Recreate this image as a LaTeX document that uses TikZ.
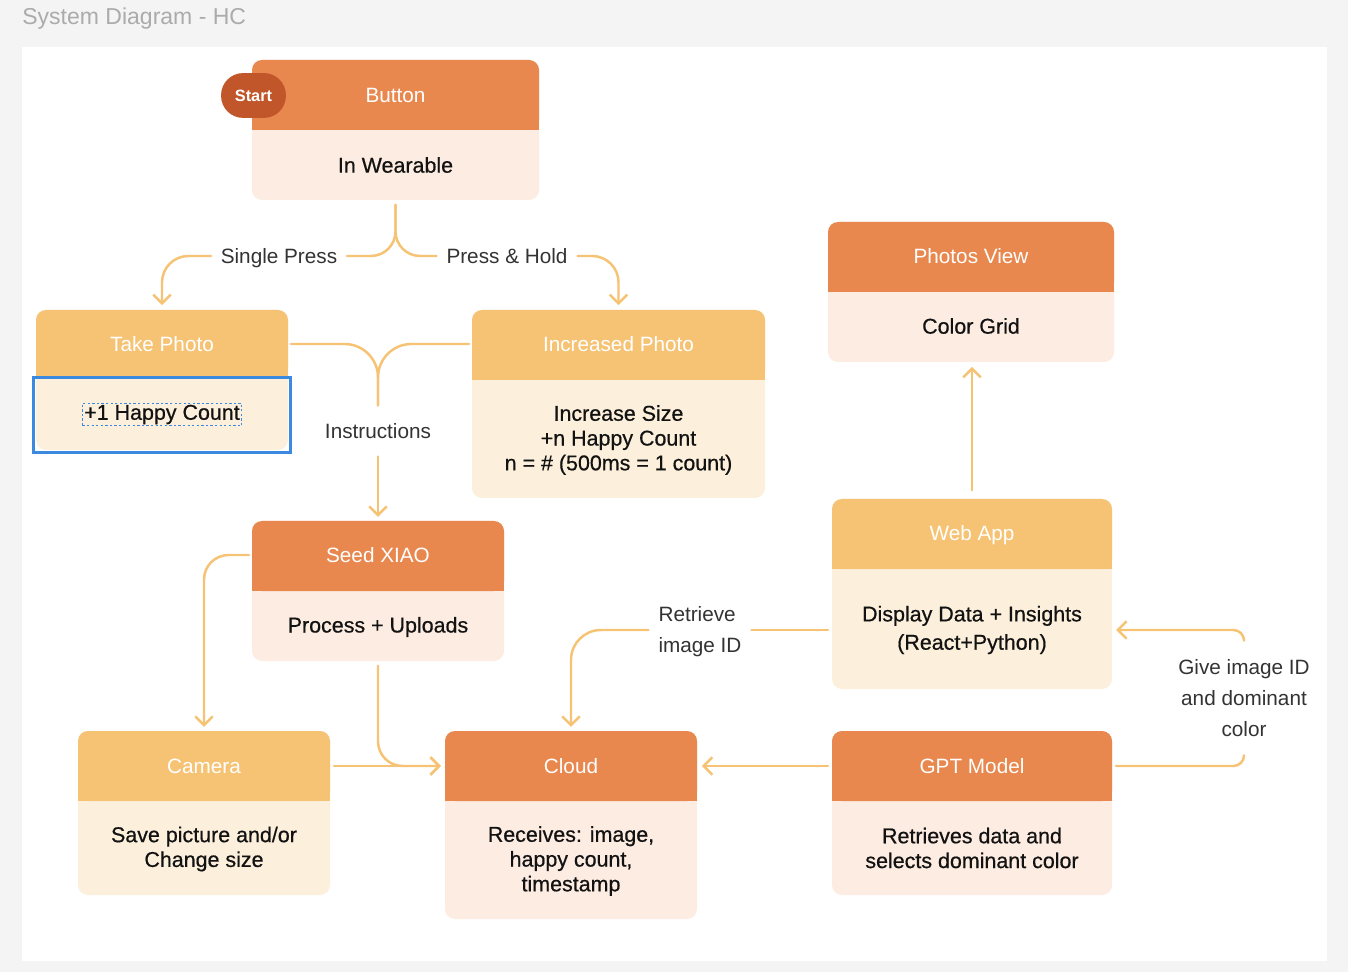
\documentclass[tikz,border=0pt]{standalone}
\usepackage{fontspec}
\setmainfont{Liberation Sans}
\newfontface\medfont{Liberation Sans}[FakeBold=0.6]
\usetikzlibrary{arrows.meta,fit}

\definecolor{hcOrange}{HTML}{E8884F}
\definecolor{hcPink}{HTML}{FDECE2}
\definecolor{hcYellow}{HTML}{F6C375}
\definecolor{hcCream}{HTML}{FCF0DC}
\definecolor{hcStart}{HTML}{C0562A}
\definecolor{hcLine}{HTML}{F6C375}
\definecolor{hcBlue}{HTML}{3C89E0}
\definecolor{hcText}{HTML}{333333}
\definecolor{hcTitle}{HTML}{ABABAB}
\definecolor{hcBack}{HTML}{F4F4F4}

\begin{document}
\begin{tikzpicture}[x=0.02cm, y=-0.02cm,
    area/.style={inner sep=0pt, outer sep=0pt},
    head/.style={text=white, font=\fontsize{11.8}{14}\selectfont},
    body/.style={text=black!93, align=center, font=\medfont\fontsize{12.2}{14.1}\selectfont},
    lbl/.style={text=hcText, align=center, inner xsep=5.5pt, inner ysep=0pt, font=\fontsize{11.8}{17.6}\selectfont},
    link/.style={draw=hcLine, line width=1.4pt, line cap=round},
    tip/.style={-{Straight Barb[length=5pt,width=10pt]}}]
    \useasboundingbox (0,0) rectangle (1348,972);
    % 背景
    \fill[hcBack] (0,0) rectangle (1348,972);
    \fill[white] (22,47) rectangle (1327,961);
    \node[anchor=west, text=hcTitle, inner sep=0pt, font=\fontsize{13.1}{15}\selectfont] (title) at (22,19) {System Diagram - HC};

    % Button
    \node[area, fit={(252,60) (539,200)}] (button) {};
    \fill[hcPink, rounded corners=5.7pt] (button.north west) rectangle (button.south east);
    \fill[hcOrange, rounded corners=5.7pt] (button.north west) rectangle (539,130);
    \fill[hcOrange] (252,110) rectangle (539,130);
    \node[head] (buttonT) at (395.5,95) {Button};
    \node[body] (buttonB) at (395.5,165) {In Wearable};
    \node[fill=hcStart, rounded corners=12.5pt, minimum width=36.9pt, minimum height=25.5pt, inner sep=0pt,
          text=white, font=\bfseries\fontsize{9.3}{11}\selectfont] (start) at (253.5,95.5) {Start};

    % Take Photo
    \node[area, fit={(36,310) (288,450)}] (take) {};
    \fill[hcCream, rounded corners=5.7pt] (take.north west) rectangle (take.south east);
    \fill[hcYellow, rounded corners=5.7pt] (take.north west) rectangle (288,378);
    \fill[hcYellow] (36,358) rectangle (288,378);
    \node[head] (takeT) at (162,344) {Take Photo};
    \node[body, draw=hcBlue, line width=0.6pt, dash pattern=on 1.3pt off 1.3pt, inner sep=1pt] (takeB) at (162,414.5) {+1 Happy Count};
    \draw[hcBlue, line width=1.7pt] (33.5,377.5) rectangle (290.5,452.5);

    % Increased Photo
    \node[area, fit={(472,310) (765,498)}] (incr) {};
    \fill[hcCream, rounded corners=5.7pt] (incr.north west) rectangle (incr.south east);
    \fill[hcYellow, rounded corners=5.7pt] (incr.north west) rectangle (765,380);
    \fill[hcYellow] (472,360) rectangle (765,380);
    \node[head] (incrT) at (618.5,344) {Increased Photo};
    \node[body] (incrB) at (618.5,440) {Increase Size\\+n Happy Count\\n = \# (500ms = 1 count)};

    % Photos View
    \node[area, fit={(828,222) (1114,362)}] (photos) {};
    \fill[hcPink, rounded corners=5.7pt] (photos.north west) rectangle (photos.south east);
    \fill[hcOrange, rounded corners=5.7pt] (photos.north west) rectangle (1114,292);
    \fill[hcOrange] (828,272) rectangle (1114,292);
    \node[head] (photosT) at (971,256) {Photos View};
    \node[body] (photosB) at (971,326) {Color Grid};

    % Seed XIAO
    \node[area, fit={(252,521) (504,661)}] (seed) {};
    \fill[hcPink, rounded corners=5.7pt] (seed.north west) rectangle (seed.south east);
    \fill[hcOrange, rounded corners=5.7pt] (seed.north west) rectangle (504,591);
    \fill[hcOrange] (252,571) rectangle (504,591);
    \node[head] (seedT) at (378,555) {Seed XIAO};
    \node[body] (seedB) at (378,627) {Process + Uploads};

    % Web App
    \node[area, fit={(832,499) (1112,689)}] (web) {};
    \fill[hcCream, rounded corners=5.7pt] (web.north west) rectangle (web.south east);
    \fill[hcYellow, rounded corners=5.7pt] (web.north west) rectangle (1112,569);
    \fill[hcYellow] (832,549) rectangle (1112,569);
    \node[head] (webT) at (972,535) {Web App};
    \node[body] (webB) at (972,630) {Display Data + Insights\\[2pt](React+Python)};

    % Camera
    \node[area, fit={(78,731) (330,895)}] (camera) {};
    \fill[hcCream, rounded corners=5.7pt] (camera.north west) rectangle (camera.south east);
    \fill[hcYellow, rounded corners=5.7pt] (camera.north west) rectangle (330,801);
    \fill[hcYellow] (78,781) rectangle (330,801);
    \node[head] (cameraT) at (204,766) {Camera};
    \node[body] (cameraB) at (204,849) {Save picture and/or\\Change size};

    % Cloud
    \node[area, fit={(445,731) (697,919)}] (cloud) {};
    \fill[hcPink, rounded corners=5.7pt] (cloud.north west) rectangle (cloud.south east);
    \fill[hcOrange, rounded corners=5.7pt] (cloud.north west) rectangle (697,801);
    \fill[hcOrange] (445,781) rectangle (697,801);
    \node[head] (cloudT) at (571,766) {Cloud};
    \node[body] (cloudB) at (571,861) {Receives: image,\\happy count,\\timestamp};

    % GPT Model
    \node[area, fit={(832,731) (1112,895)}] (gpt) {};
    \fill[hcPink, rounded corners=5.7pt] (gpt.north west) rectangle (gpt.south east);
    \fill[hcOrange, rounded corners=5.7pt] (gpt.north west) rectangle (1112,801);
    \fill[hcOrange] (832,781) rectangle (1112,801);
    \node[head] (gptT) at (972,766) {GPT Model};
    \node[body] (gptB) at (972,848) {Retrieves data and\\selects dominant color};

    % 标注
    \node[lbl] (single) at (279,258) {Single Press};
    \node[lbl] (hold) at (507,256) {Press \& Hold};
    \node[lbl, inner ysep=10pt] (instr) at (378,431) {Instructions};
    \node[lbl, align=left] (retr) at (700,632) {Retrieve\\image ID};
    \node[lbl, inner ysep=10.5pt] (give) at (1244,698) {Give image ID\\and dominant\\color};

    % 连线
    \draw[link, rounded corners=14pt, shorten <=2.8pt] (button.south) |- (hold.west -| single.east);
    \draw[link, rounded corners=14pt, shorten <=2.8pt] (button.south) |- (hold.west);
    \draw[link, tip, rounded corners=15pt, shorten >=2.8pt] (hold.west -| single.west) -| (take.north);
    \draw[link, tip, rounded corners=15pt, shorten >=2.8pt] (hold.east) -| (incr.north);
    \draw[link, rounded corners=19pt, shorten <=1.7pt] (take.north east |- takeT) -| (instr.north);
    \draw[link, rounded corners=19pt, shorten <=1.7pt] (incr.north west |- incrT) -| (instr.north);
    \draw[link, tip, shorten >=2.3pt] (instr.south) -- (seed.north);
    \draw[link, tip, rounded corners=14pt, shorten <=1.7pt, shorten >=2.3pt] (seed.north west |- seedT) -| (camera.north);
    \draw[link, tip, rounded corners=14pt, shorten <=2.8pt, shorten >=2.3pt] (seed.south) |- (cloud.north west |- cloudT);
    \draw[link, tip, shorten <=2.3pt, shorten >=2.3pt] (camera.north east |- cameraT) -- (cloud.north west |- cloudT);
    \draw[link, tip, shorten <=2.3pt, shorten >=2.8pt] (gpt.north west |- gptT) -- (cloud.north east |- cloudT);
    \draw[link, shorten <=2.3pt] (web.north west |- webB) -- (retr.east |- webB);
    \draw[link, tip, rounded corners=17pt, shorten >=2.3pt] (retr.west |- webB) -| (cloud.north);
    \draw[link, tip, shorten <=5pt, shorten >=2.8pt] (web.north) -- (web.north |- photos.south);
    \draw[link, rounded corners=6pt, shorten <=2.3pt] (gpt.north east |- gptT) -| (give.south);
    \draw[link, tip, rounded corners=6pt, shorten >=2.3pt] (give.north) |- (web.north east |- webB);
\end{tikzpicture}
\end{document}
